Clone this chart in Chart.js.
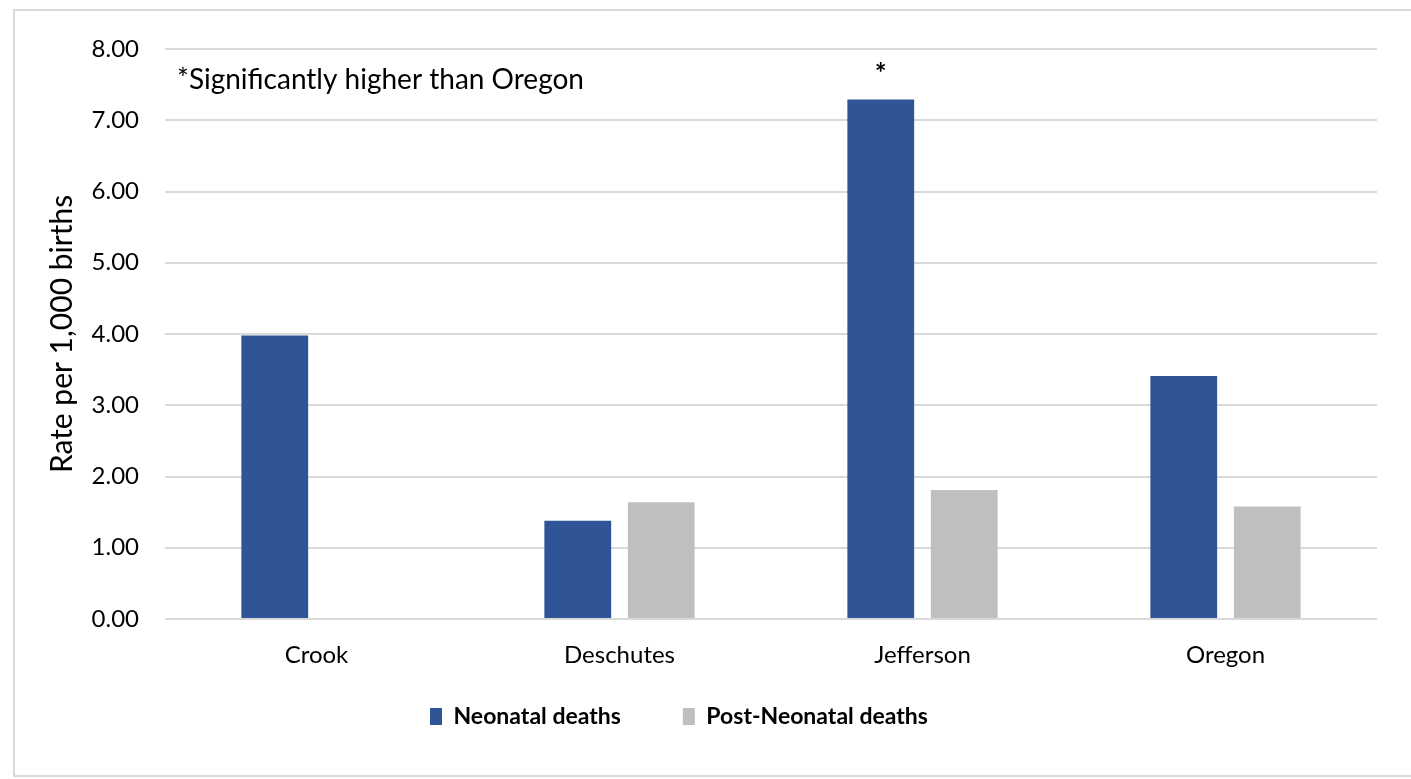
<!DOCTYPE html>
<html>
<head>
<meta charset="utf-8">
<script src="https://cdn.jsdelivr.net/npm/chart.js@4/dist/chart.umd.min.js"></script>
<style>
  html, body { margin: 0; padding: 0; background: #fff; }
  #frame { position: absolute; left: 13px; top: 9px; width: 1420px; height: 768px; border: 2px solid #d9d9d9; box-sizing: border-box; }
  #wrap { position: absolute; left: 0; top: 0; width: 1411px; height: 779px; }
</style>
</head>
<body>
<div id="frame"></div>
<div id="wrap"><canvas id="c" width="1411" height="779"></canvas></div>
<script>
const categories = ["Crook", "Deschutes", "Jefferson", "Oregon"];
const neonatal = [3.98, 1.38, 7.29, 3.41];
const postNeonatal = [null, 1.64, 1.81, 1.58];
const seriesNames = ["Neonatal deaths", "Post-Neonatal deaths"];
const yTicks = [0, 1, 2, 3, 4, 5, 6, 7, 8];
const noteText = "*Significantly higher than Oregon";
const starMarks = ["", "", "*", ""];

const FONT = "Lato, 'Open Sans', sans-serif";
const LEGEND_PAD = 62;
const LEGEND_H = 100;

const annotate = {
  id: 'annotate',
  beforeLayout(chart) {
    const lg = chart.legend;
    if (lg && !lg._patched) {
      const orig = lg.fit;
      lg.fit = function () { orig.call(this); this.height = LEGEND_H; };
      lg._patched = true;
    }
  },
  afterLayout(chart) {
    const lg = chart.legend;
    if (lg) {
      const w = lg.right - lg.left;
      lg.left = 430 - LEGEND_PAD;
      lg.right = lg.left + w;
      lg.top -= 36;
      lg.bottom -= 36;
    }
  },
  afterDatasetsDraw(chart) {
    const ctx = chart.ctx;
    ctx.save();
    ctx.fillStyle = '#000';
    ctx.font = "28px " + FONT;
    ctx.textBaseline = 'middle';
    ctx.textAlign = 'left';
    ctx.fillText(noteText, 177, 80);
    const meta = chart.getDatasetMeta(0);
    ctx.textAlign = 'center';
    ctx.font = "bold 28px " + FONT;
    starMarks.forEach((s, i) => {
      if (!s) return;
      const el = meta.data[i];
      ctx.fillText(s, el.x, el.y - 26);
    });
    ctx.restore();
  }
};

new Chart(document.getElementById('c'), {
  type: 'bar',
  data: {
    labels: categories,
    datasets: [
      { label: seriesNames[0], data: neonatal, backgroundColor: '#2f5597', categoryPercentage: 0.551, barPercentage: 0.8 },
      { label: seriesNames[1], data: postNeonatal, backgroundColor: '#bfbfbf', categoryPercentage: 0.551, barPercentage: 0.8 }
    ]
  },
  options: {
    responsive: false,
    animation: false,
    devicePixelRatio: 1,
    layout: { padding: { left: 40, right: 34, top: 49, bottom: 0 } },
    plugins: {
      tooltip: { enabled: false },
      legend: {
        position: 'bottom',
        align: 'start',
        labels: {
          color: '#000',
          font: { family: FONT, size: 23, weight: 'bold' },
          boxWidth: 12,
          boxHeight: 17,
          padding: LEGEND_PAD
        }
      }
    },
    scales: {
      x: {
        grid: { display: false, drawTicks: false },
        border: { display: false },
        ticks: { color: '#000', font: { family: FONT, size: 24 }, padding: 22, maxRotation: 0, autoSkip: false },
        afterFit(s) { s.height = 60; }
      },
      y: {
        min: 0, max: 8,
        grid: { color: '#d9d9d9', lineWidth: 2, drawTicks: false },
        border: { display: false },
        afterBuildTicks(s) { s.ticks = yTicks.map(v => ({ value: v })); },
        ticks: { color: '#000', font: { family: FONT, size: 24 }, padding: 26, callback: v => Number(v).toFixed(2) },
        title: { display: true, text: 'Rate per 1,000 births', color: '#000', font: { family: FONT, size: 30 }, padding: { top: 4, bottom: 0 } },
        afterFit(s) { s.width = 125; }
      }
    }
  },
  plugins: [annotate]
});
</script>
</body>
</html>
